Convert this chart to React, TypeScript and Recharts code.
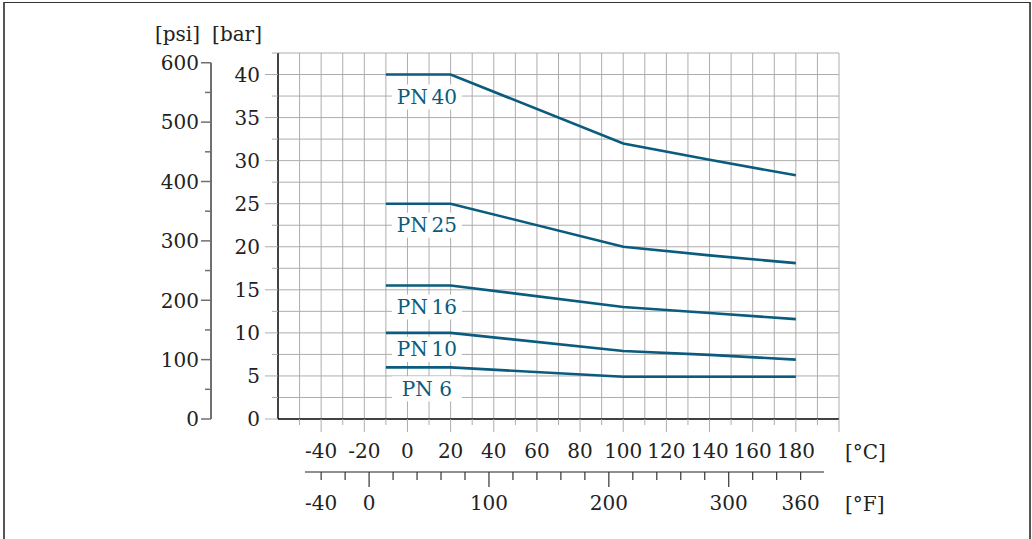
import { LineChart, Line, XAxis, YAxis, CartesianGrid, LabelList } from "recharts";

// readings, bar vs °C
const temperatures = [-10, 20, 100, 140, 180];
const pn40 = [40, 40, 32, 30.1, 28.3];
const pn25 = [25, 25, 20, 19, 18.1];
const pn16 = [15.5, 15.5, 13, 12.3, 11.6];
const pn10 = [10, 10, 7.9, 7.45, 6.9];
const pn6 = [6, 6, 4.9, 4.9, 4.9];

const seriesKeys = ["pn40", "pn25", "pn16", "pn10", "pn6"];
const seriesNames = ["PN\u200940", "PN\u200925", "PN\u200916", "PN\u200910", "PN 6"];
const seriesValues = [pn40, pn25, pn16, pn10, pn6];

const celsiusTicks = [-60, -50, -40, -30, -20, -10, 0, 10, 20, 30, 40, 50, 60, 70, 80, 90, 100, 110, 120, 130, 140, 150, 160, 170, 180, 190, 200];
const celsiusLabels = [-40, -20, 0, 20, 40, 60, 80, 100, 120, 140, 160, 180];
const fahrenheitTicks = [-40, -20, 0, 20, 40, 60, 80, 100, 120, 140, 160, 180, 200, 220, 240, 260, 280, 300, 320, 340, 360];
const fahrenheitLabels = [-40, 0, 100, 200, 300, 360];
const fahrenheitMajor = [0, 100, 200, 300];
const barTicks = [0, 2.5, 5, 7.5, 10, 12.5, 15, 17.5, 20, 22.5, 25, 27.5, 30, 32.5, 35, 37.5, 40, 42.5];
const barLabels = [0, 5, 10, 15, 20, 25, 30, 35, 40];
const psiTicks = [0, 50, 100, 150, 200, 250, 300, 350, 400, 450, 500, 550, 600];
const psiLabels = [0, 100, 200, 300, 400, 500, 600];

const BAR_MAX = 42.5;
const PSI_MAX = BAR_MAX * 14.5038;

// layout
const W = 1032;
const H = 539;
const PLOT_LEFT = 278;
const PLOT_TOP = 53;
const PLOT_BOTTOM = 419;
const PLOT_H = PLOT_BOTTOM - PLOT_TOP;
const PSI_X = 211;
const F_Y = 472;

const FONT = "'DejaVu Serif', serif";
const TEXT = "#222";
const GRID = "#adadad";
const BLUE = "#0a5b7e";
const labelDy = [22, 21, 21, 16, 21];

const rows = temperatures.map((t, i) => {
  const row: Record<string, number | string | null> = { t, tf: t * 1.8 + 32 };
  seriesKeys.forEach((k, s) => {
    row[k] = seriesValues[s][i];
    row["lab_" + k] = i === 0 ? seriesNames[s] : null;
  });
  return row;
});

function CelsiusTick(props: any) {
  const { x, payload } = props;
  const v = payload.value;
  if (v === -60) return <g />;
  const len = v % 20 === 0 ? 13 : 6;
  return (
    <g>
      <line x1={x} x2={x} y1={PLOT_BOTTOM} y2={PLOT_BOTTOM + len} stroke={GRID} />
      {celsiusLabels.includes(v) && (
        <text x={x} y={458} textAnchor="middle" fontSize={20} fontFamily={FONT} fill={TEXT}>
          {v}
        </text>
      )}
    </g>
  );
}

function FahrenheitTick(props: any) {
  const { x, payload } = props;
  const v = payload.value;
  const len = fahrenheitMajor.includes(v) ? 15 : 8;
  return (
    <g>
      {v === -40 && <line x1={305} x2={824} y1={F_Y} y2={F_Y} stroke="#222" strokeWidth={1.2} />}
      <line x1={x} x2={x} y1={F_Y} y2={F_Y + len} stroke="#333" strokeWidth={1.2} />
      {fahrenheitLabels.includes(v) && (
        <text x={x} y={510} textAnchor="middle" fontSize={20} fontFamily={FONT} fill={TEXT}>
          {v}
        </text>
      )}
    </g>
  );
}

function BarTick(props: any) {
  const { y, payload } = props;
  const v = payload.value;
  const major = v % 5 === 0;
  return (
    <g>
      <line x1={major ? 265 : 272} x2={PLOT_LEFT} y1={y} y2={y} stroke={GRID} />
      {barLabels.includes(v) && (
        <text x={260} y={y + 7.3} textAnchor="end" fontSize={20} fontFamily={FONT} fill={TEXT}>
          {v}
        </text>
      )}
    </g>
  );
}

function PsiTick(props: any) {
  const { y, payload } = props;
  const v = payload.value;
  const major = v % 100 === 0;
  return (
    <g>
      {v === 0 && (
        <line x1={PSI_X} x2={PSI_X} y1={y} y2={y - (PLOT_H * 600) / PSI_MAX} stroke="#707070" strokeWidth={2} />
      )}
      <line x1={PSI_X - (major ? 10 : 6)} x2={PSI_X} y1={y} y2={y} stroke="#707070" strokeWidth={1.5} />
      {psiLabels.includes(v) && (
        <text x={199} y={y + 7.3} textAnchor="end" fontSize={20} fontFamily={FONT} fill={TEXT}>
          {v}
        </text>
      )}
    </g>
  );
}

function pnLabel(dy: number) {
  return (p: any) => {
    if (p.value == null) return null;
    const cx = p.x + 41;
    const cy = p.y + dy;
    return (
      <g>
        <rect x={cx - 35} y={cy - 12} width={70} height={25} fill="#fff" />
        <text x={cx} y={cy + 7.3} textAnchor="middle" fontSize={20} fontFamily={FONT} fill={BLUE}>
          {p.value}
        </text>
      </g>
    );
  };
}

export default function App() {
  return (
    <div style={{ position: "fixed", left: 0, top: 0, width: W, height: H, background: "#fff", overflow: "hidden" }}>
      <div
        style={{
          position: "absolute",
          left: 3,
          top: 2,
          width: 1024,
          height: 560,
          borderLeft: "2px solid #555",
          borderRight: "2px solid #555",
          borderTop: "1px solid #333",
        }}
      />
      <LineChart
        width={W}
        height={H}
        data={rows}
        margin={{ top: PLOT_TOP, right: 193, bottom: 17, left: 100 }}
        style={{ position: "absolute", left: 0, top: 0 }}
      >
        <XAxis
          xAxisId="c"
          dataKey="t"
          type="number"
          domain={[-60, 200]}
          ticks={celsiusTicks}
          interval={0}
          allowDataOverflow
          height={53}
          tickLine={false}
          axisLine={{ stroke: "#111", strokeWidth: 1.5 }}
          tick={CelsiusTick}
        />
        <XAxis
          xAxisId="f"
          dataKey="tf"
          type="number"
          domain={[-76, 392]}
          ticks={fahrenheitTicks}
          interval={0}
          allowDataOverflow
          height={50}
          tickLine={false}
          axisLine={false}
          tick={FahrenheitTick}
        />
        <YAxis
          yAxisId="bar"
          type="number"
          domain={[0, BAR_MAX]}
          ticks={barTicks}
          interval={0}
          allowDataOverflow
          width={67}
          tickLine={false}
          axisLine={{ stroke: "#111", strokeWidth: 1.5 }}
          tick={BarTick}
        />
        <YAxis
          yAxisId="psi"
          type="number"
          domain={[0, PSI_MAX]}
          ticks={psiTicks}
          interval={0}
          allowDataOverflow
          width={111}
          tickLine={false}
          axisLine={false}
          tick={PsiTick}
        />
        <CartesianGrid xAxisId="c" yAxisId="bar" stroke={GRID} />
        {seriesKeys.map((k, i) => (
          <Line
            key={k}
            xAxisId="c"
            yAxisId="bar"
            type="linear"
            dataKey={k}
            stroke={BLUE}
            strokeWidth={2.6}
            dot={false}
            isAnimationActive={false}
          >
            <LabelList dataKey={"lab_" + k} content={pnLabel(labelDy[i])} />
          </Line>
        ))}
        {/* invisible carrier so the °F axis gets a numeric scale */}
        <Line
          xAxisId="f"
          yAxisId="bar"
          dataKey="pn6"
          stroke="none"
          dot={false}
          activeDot={false}
          legendType="none"
          isAnimationActive={false}
        />
      </LineChart>
      <svg width={W} height={H} style={{ position: "absolute", left: 0, top: 0, pointerEvents: "none" }}>
        <text x={200} y={41} textAnchor="end" fontSize={20} fontFamily={FONT} fill={TEXT}>[psi]</text>
        <text x={262} y={41} textAnchor="end" fontSize={20} fontFamily={FONT} fill={TEXT}>[bar]</text>
        <text x={845} y={459} fontSize={20} fontFamily={FONT} fill={TEXT}>[°C]</text>
        <text x={845} y={511} fontSize={20} fontFamily={FONT} fill={TEXT}>[°F]</text>
      </svg>
    </div>
  );
}
